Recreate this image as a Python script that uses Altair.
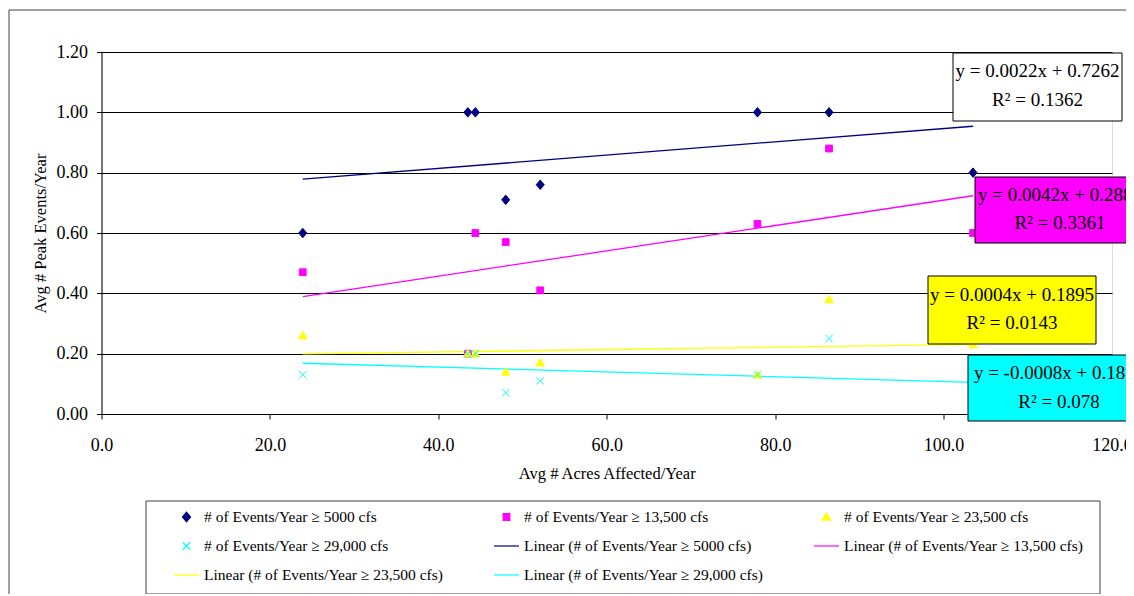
import altair as alt
import pandas as pd

# ---------------- data ----------------
x_acres = [23.9, 43.5, 44.4, 48.0, 52.1, 77.9, 86.4, 103.5]
events_5000 = [0.60, 1.00, 1.00, 0.71, 0.76, 1.00, 1.00, 0.80]
events_13500 = [0.47, 0.20, 0.60, 0.57, 0.41, 0.63, 0.88, 0.60]
events_23500 = [0.26, 0.20, 0.20, 0.14, 0.17, 0.13, 0.38, 0.23]
events_29000 = [0.13, 0.20, 0.20, 0.07, 0.11, 0.13, 0.25, 0.03]

series_names = [
    "# of Events/Year \u2265 5000 cfs",
    "# of Events/Year \u2265 13,500 cfs",
    "# of Events/Year \u2265 23,500 cfs",
    "# of Events/Year \u2265 29,000 cfs",
]
trend_names = [f"Linear ({n})" for n in series_names]

slopes = [0.0022, 0.0042, 0.0004, -0.0008]
intercepts = [0.7262, 0.2888, 0.1895, 0.1874]
r_squared = [0.1362, 0.3361, 0.0143, 0.078]

x_ticks = [0, 20, 40, 60, 80, 100, 120]
y_ticks = [0.0, 0.2, 0.4, 0.6, 0.8, 1.0, 1.2]

x_title = "Avg # Acres Affected/Year"
y_title = "Avg # Peak Events/Year"

# ---------------- styles ----------------
FONT = "Liberation Serif"
colors = ["#000080", "#FF00FF", "#FFFF00", "#00FFFF"]
box_fills = ["#FFFFFF", "#FF00FF", "#FFFF00", "#00FFFF"]

DIAMOND = "M0,-0.38L0.32,0L0,0.38L-0.32,0Z"
SQUARE = "M-0.27,-0.27H0.27V0.27H-0.27Z"
TRIANGLE = "M0,-0.32L0.34,0.26L-0.34,0.26Z"
XMARK = "M-0.3,-0.3L0.3,0.3M-0.3,0.3L0.3,-0.3"
LINE = "M-1,0H1"

W, H = 1010.5, 362

# box layout (pixels relative to plot origin): x, x2, y, y2, center x, line1 y, line2 y
box_layout = [
    (851.5, 1020.5, 1, 69, 936, 19, 48),
    (873.5, 1043.5, 125, 191, 958.5, 143, 171),
    (826.5, 994.5, 224, 292, 910.5, 243, 271),
    (866.5, 1048.5, 303, 369, 957.5, 321, 350),
]

# ---------------- tables ----------------
all_series = [events_5000, events_13500, events_23500, events_29000]
rows = []
for name, ys in zip(series_names, all_series):
    for xv, yv in zip(x_acres, ys):
        rows.append({"x": xv, "y": yv, "series": name})
pts = pd.DataFrame(rows)

legend_domain = series_names + trend_names
x_scale = alt.Scale(domain=[0, 120], nice=False, zero=True)
y_scale = alt.Scale(domain=[0, 1.2], nice=False, zero=True)

x_axis = alt.Axis(
    values=x_ticks, format=".1f", grid=False, domainColor="black", tickColor="black",
    tickSize=5, labelFont=FONT, labelFontSize=18, labelColor="black", labelPadding=17,
    labelFlush=False, labelOverlap=False, title=x_title, titleFont=FONT, titleFontSize=16.5,
    titleFontWeight="normal", titleColor="black", titleY=59, titleBaseline="middle",
)
y_axis = alt.Axis(
    values=y_ticks, format=".2f", grid=True, gridColor="black", gridWidth=1,
    domainColor="black", tickColor="black", tickSize=5, labelFont=FONT, labelFontSize=18,
    labelColor="black", labelPadding=9, labelFlush=False, labelOverlap=False,
    title=y_title, titleFont=FONT, titleFontSize=16.5, titleFontWeight="normal",
    titleColor="black", titleX=-53.5, titleY=H / 2, titleAlign="center", titleBaseline="bottom",
)

legend = alt.Legend(
    title=None, orient="none", legendX=71.5, legendY=451.5, columns=3, direction="horizontal",
    columnPadding=48, rowPadding=7, labelFont=FONT, labelFontSize=15.5,
    labelColor="black", labelLimit=500, labelOffset=4, symbolSize=625,
    symbolStrokeWidth=1.2, padding=0,
)

points = alt.Chart(pts).mark_point(filled=True, size=625, strokeWidth=1, opacity=1).encode(
    x=alt.X("x:Q", scale=x_scale, axis=x_axis),
    y=alt.Y("y:Q", scale=y_scale, axis=y_axis),
    fill=alt.Fill("series:N", scale=alt.Scale(domain=legend_domain, range=colors + colors), legend=legend),
    stroke=alt.Stroke("series:N", scale=alt.Scale(domain=legend_domain, range=colors + colors), legend=legend),
    shape=alt.Shape("series:N", scale=alt.Scale(domain=legend_domain,
                                                range=[DIAMOND, SQUARE, TRIANGLE, XMARK, LINE, LINE, LINE, LINE]),
                    legend=legend),
)

xmin, xmax = min(x_acres), max(x_acres)
trend_layers = []
for i in range(4):
    tdf = pd.DataFrame({
        "x": [xmin, xmax],
        "y": [slopes[i] * xmin + intercepts[i], slopes[i] * xmax + intercepts[i]],
    })
    trend_layers.append(
        alt.Chart(tdf).mark_line(color=colors[i], strokeWidth=1.3).encode(
            x=alt.X("x:Q", scale=x_scale), y=alt.Y("y:Q", scale=y_scale)
        )
    )

box_layers = []
for i in range(4):
    bx, bx2, by, by2, cx, ly1, ly2 = box_layout[i]
    sign = "-" if slopes[i] < 0 else ""
    eq = f"y = {sign}{abs(slopes[i]):.4f}x + {intercepts[i]:.4f}"
    r2 = f"R\u00b2 = {r_squared[i]}"
    bdf = pd.DataFrame({"eq": [eq], "r2": [r2]})
    base = alt.Chart(bdf)
    box_layers.append(base.mark_rect(fill=box_fills[i], stroke="black", strokeWidth=1).encode(
        x=alt.value(bx), x2=alt.value(bx2), y=alt.value(by), y2=alt.value(by2)))
    box_layers.append(base.mark_text(font=FONT, fontSize=19, color="black", align="center",
                                     baseline="middle").encode(
        x=alt.value(cx), y=alt.value(ly1), text="eq:N"))
    box_layers.append(base.mark_text(font=FONT, fontSize=19, color="black", align="center",
                                     baseline="middle").encode(
        x=alt.value(cx), y=alt.value(ly2), text="r2:N"))

frame_df = pd.DataFrame({"k": [0]})
legend_border = alt.Chart(frame_df).mark_rect(fill=None, stroke="#404040", strokeWidth=1).encode(
    x=alt.value(44.5), x2=alt.value(998.5), y=alt.value(449), y2=alt.value(542))
chart_border = alt.Chart(frame_df).mark_rect(fill=None, stroke="#404040", strokeWidth=1).encode(
    x=alt.value(-92.5), x2=alt.value(1200), y=alt.value(-42), y2=alt.value(700))

chart = alt.layer(
    chart_border, *trend_layers, points, *box_layers, legend_border
).properties(
    width=W, height=H,
    autosize=alt.AutoSizeParams(type="none"),
    padding={"left": 93.5, "top": 44, "right": 14, "bottom": 180},
).configure_view(
    stroke="#808080", strokeWidth=1
).configure(background="white")

chart.save("out.html", embed_options={"renderer": "svg", "actions": False})
